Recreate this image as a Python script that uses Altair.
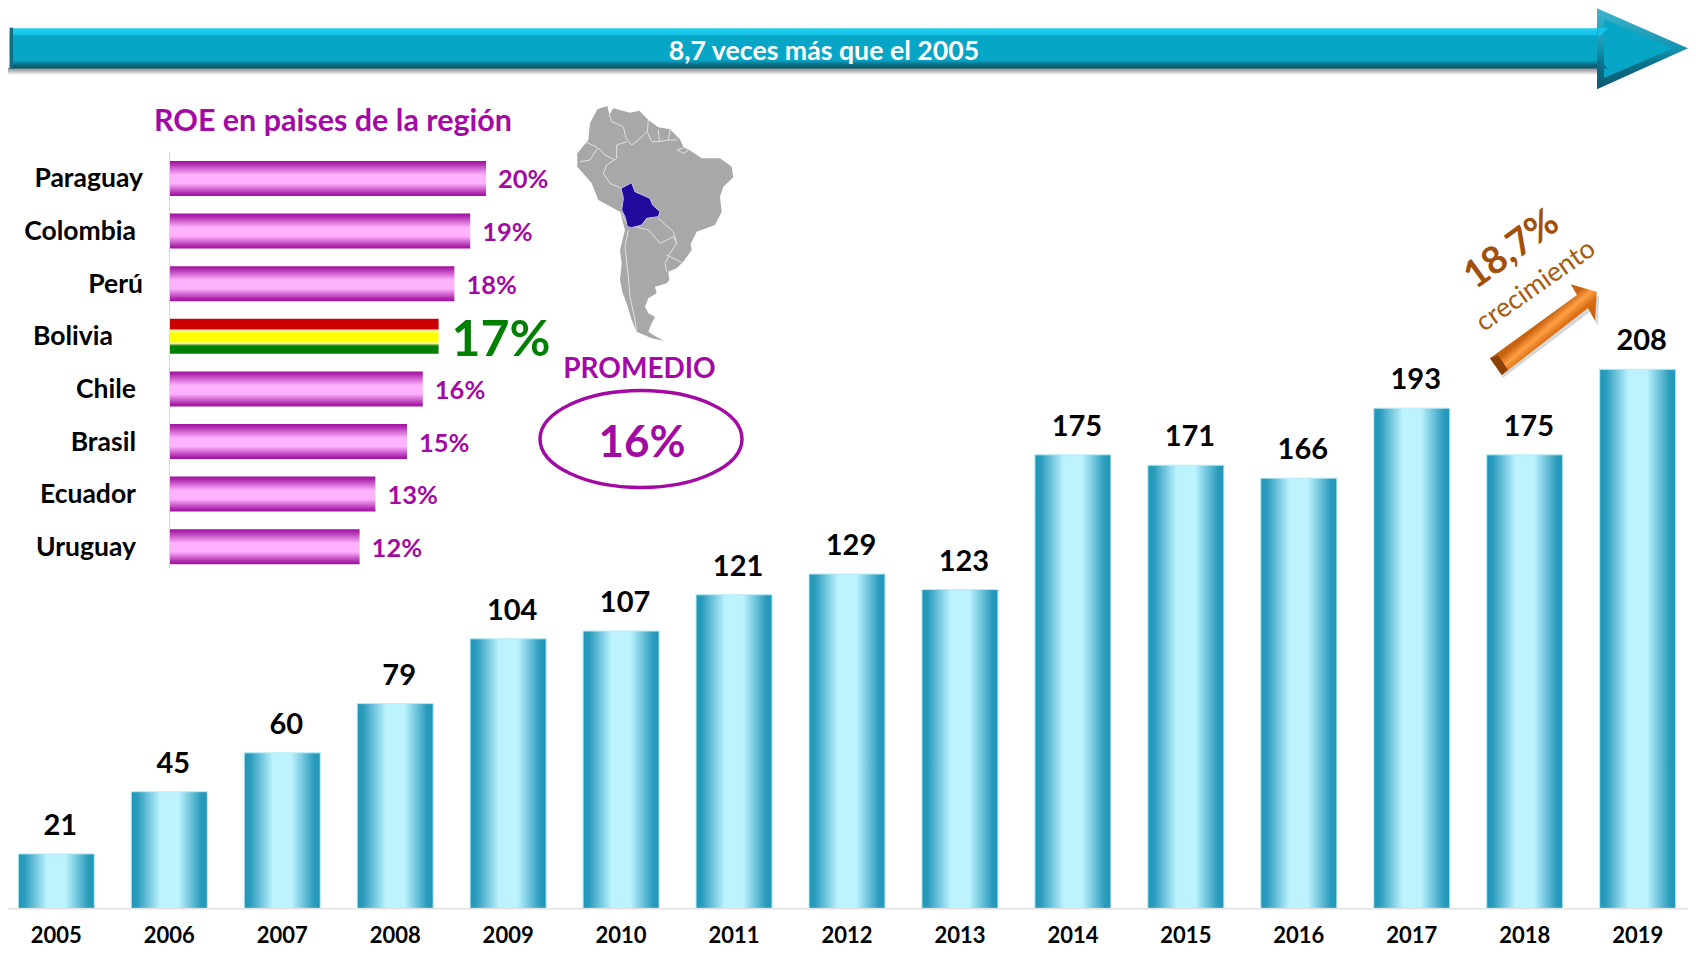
import altair as alt
import pandas as pd

years = ["2005","2006","2007","2008","2009","2010","2011","2012","2013","2014","2015","2016","2017","2018","2019"]
profits = [21,45,60,79,104,107,121,129,123,175,171,166,193,175,208]
countries = ["Paraguay","Colombia","Perú","Bolivia","Chile","Brasil","Ecuador","Uruguay"]
roe = [20,19,18,17,16,15,13,12]
roe_labels = ["20%","19%","18%","17%","16%","15%","13%","12%"]

FONT = "Lato"
PURPLE = "#a30aa3"
main_df = pd.DataFrame({"year": years, "value": profits})
roe_df = pd.DataFrame({"country": countries, "roe": roe, "label": roe_labels})
one = pd.DataFrame({"a": [0]})

X_MAIN = alt.X("year:N", axis=None, sort=years,
               scale=alt.Scale(type="band", domain=years, range=[10.3, 1667.7], paddingInner=0.327, paddingOuter=0, round=False))
Y_MAIN = alt.Y("value:Q", axis=None, scale=alt.Scale(domain=[0, 208], range=[900.3, 361.3], nice=False))
X_ROE = alt.X("roe:Q", axis=None, scale=alt.Scale(domain=[0, 20], range=[162, 478], nice=False))
Y_ROE = alt.Y("country:N", axis=None, sort=countries,
              scale=alt.Scale(type="band", domain=countries, range=[153, 556.2], paddingInner=0.335, paddingOuter=0, round=False))

def grad(stops, horizontal=False, x1=None, y1=None, x2=None, y2=None):
    return alt.LinearGradient(
        gradient="linear",
        stops=[alt.GradientStop(offset=o, color=c) for o, c in stops],
        x1=(0 if x1 is None else x1), y1=(0 if y1 is None else y1),
        x2=((1 if horizontal else 0) if x2 is None else x2),
        y2=((0 if horizontal else 1) if y2 is None else y2),
    )

def shape(path, fill=None, stroke=None, sw=0, x=0, y=0, size=4, opacity=1):
    kw = dict(shape=path, size=size, opacity=opacity, strokeWidth=sw)
    kw["filled"] = fill is not None
    if fill is not None:
        kw["fill"] = fill
    if stroke is not None:
        kw["stroke"] = stroke
    return alt.Chart(one).mark_point(**kw).encode(x=alt.value(x), y=alt.value(y))

def label(text, x, y, size, color, weight="bold", angle=0, align="center"):
    return alt.Chart(one).mark_text(text=text, font=FONT, fontSize=size, color=color, fontWeight=weight,
                                    angle=angle, align=align, baseline="middle").encode(
        x=alt.value(x), y=alt.value(y))

layers = []

# ---------- top arrow ----------
layers.append(shape("M0,60 H1590 V67 H0 Z",
                    fill=grad([(0, "#8a8a8a"), (0.55, "#c4c4c4"), (1, "#ffffff")])))
layers.append(shape("M1.7,19.7 H1592 V60.4 H1.7 Z",
                    fill=grad([(0, "#a9dfea"), (0.04, "#16cdf2"), (0.16, "#18c6e8"), (0.2, "#07a5c6"),
                               (0.8, "#07a5c6"), (0.9, "#0a6f88"), (1, "#0a5468")])))
layers.append(shape("M1.7,19.7 H5 V60.4 H1.7 Z", fill="#0d7186"))
layers.append(shape("M1589,0.3 L1680,40.3 L1589,81.3 Z",
                    fill=grad([(0, "#3fb6cf"), (0.5, "#1593af"), (0.7, "#0a6f88"), (1, "#0a5a70")])))
layers.append(shape("M1596,11 L1665,40.3 L1596,70 Z", fill="#07a5c6"))
layers.append(shape("M1590,19.7 H1600 L1592,28 H1590 Z", fill="#16c4e6"))
layers.append(shape("M1590,60.4 H1600 L1592,53 H1590 Z", fill="#0a6f88"))
layers.append(label("8,7 veces más que el 2005", 816, 44, 26.7, "#ffffff"))

# ---------- main bars ----------
teal = grad([(0, "#1f96b8"), (0.08, "#2a9bbc"), (0.38, "#bcf3ff"), (0.62, "#bcf3ff"), (0.92, "#2a9bbc"), (1, "#1f96b8")],
            horizontal=True)
layers.append(alt.Chart(main_df).mark_bar(color=teal, stroke="#b8ecf6", strokeWidth=1).encode(x=X_MAIN, y=Y_MAIN))
layers.append(alt.Chart(main_df).mark_text(font=FONT, fontSize=29, fontWeight="bold", color="#000000",
                                           dx=4, dy=-19, baseline="alphabetic").encode(
    x=X_MAIN, y=Y_MAIN, text="value:Q"))
layers.append(alt.Chart(main_df).transform_calculate(base="0").mark_text(
    font=FONT, fontSize=22, fontWeight="bold", color="#000000", dy=28, baseline="middle").encode(
    x=X_MAIN, y=alt.Y("base:Q", axis=None, scale=alt.Scale(domain=[0, 208], range=[900.3, 361.3], nice=False)),
    text="year:N"))
layers.append(alt.Chart(one).mark_rule(color="#e2e2e2", strokeWidth=1.5).encode(
    x=alt.value(0), x2=alt.value(1680), y=alt.value(900.8)))

# ---------- ROE bars ----------
pink = grad([(0, "#a30fa0"), (0.07, "#ab25aa"), (0.4, "#ffb3ff"), (0.64, "#ffb3ff"), (0.93, "#ab25aa"), (1, "#a30fa0")])
flag = grad([(0, "#cc0000"), (0.28, "#cc0000"), (0.31, "#e8a060"), (0.34, "#ffff99"), (0.42, "#ffff00"), (0.62, "#ffff00"),
             (0.7, "#ffff99"), (0.75, "#5fa050"), (0.78, "#008000"), (1, "#008000")])
is_bol = "datum.country == 'Bolivia'"
not_bol = "datum.country != 'Bolivia'"
layers.append(alt.Chart(roe_df).transform_filter(not_bol).mark_bar(color=pink).encode(x=X_ROE, y=Y_ROE))
layers.append(alt.Chart(roe_df).transform_filter(is_bol).mark_bar(color=flag).encode(x=X_ROE, y=Y_ROE))
layers.append(alt.Chart(one).mark_rule(color="#d8d8d8", strokeWidth=1).encode(
    x=alt.value(161.5), y=alt.value(144), y2=alt.value(560)))
layers.append(alt.Chart(roe_df).transform_filter(not_bol).mark_text(
    font=FONT, fontSize=25.5, fontWeight="bold", color=PURPLE, align="left", dx=12, dy=2, baseline="middle").encode(
    x=X_ROE, y=Y_ROE, text="label:N"))
layers.append(alt.Chart(roe_df).transform_filter(is_bol).mark_text(
    font=FONT, fontSize=50, fontWeight="bold", color="#008000", align="left", dx=13, dy=5, baseline="middle").encode(
    x=X_ROE, y=Y_ROE, text="label:N"))

for names, right in ((["Paraguay", "Perú"], 135), (["Colombia", "Chile", "Brasil", "Ecuador", "Uruguay"], 128), (["Bolivia"], 105)):
    layers.append(alt.Chart(roe_df).transform_filter(alt.FieldOneOfPredicate(field="country", oneOf=names)).mark_text(
        font=FONT, fontSize=26.5, fontWeight="bold", color="#000000", align="right", dy=1, baseline="middle").encode(
        x=alt.value(right), y=Y_ROE, text="country:N"))

layers.append(label("ROE en paises de la región", 325, 114, 30.5, PURPLE))

# ---------- map (outline in 3x local units) ----------
MAP = ("M232,58 L262,48 L268,75 L280,55 L330,68 L358,62 L385,90 L415,112 L450,118 L480,148 L490,170 L505,178 L545,205 "
       "L600,205 L635,230 L640,262 L610,290 L600,320 L605,365 L585,405 L530,425 L512,462 L515,480 L490,515 L470,535 "
       "L445,545 L448,570 L440,580 L405,590 L410,610 L385,625 L375,650 L385,670 L405,680 L395,700 L385,725 L400,735 "
       "L432,753 L395,745 L350,725 L335,690 L320,640 L308,610 L300,570 L305,520 L300,480 L315,420 L300,365 L235,330 "
       "L215,280 L172,230 L172,190 L205,150 L210,100 Z")
BORDERS = ("M268,75 L275,95 L310,110 L318,145 L335,165 L355,150 L380,125 M385,90 L382,125 L395,155 L418,155 L415,120 "
           "M418,155 L445,150 L450,120 M445,150 L470,150 M320,155 L290,165 L290,205 L260,225 L250,250 L270,280 L303,295 "
           "M195,155 L232,172 L255,195 L285,210 M232,175 L210,210 L180,215 M300,365 L325,410 "
           "M325,420 L315,470 L325,560 L330,620 L345,690 L350,725 M345,410 L385,420 L420,460 L460,440 L470,460 "
           "M415,385 L460,425 L470,460 L450,490 L435,520 L440,545 M440,495 L490,520 "
           "M472,180 L495,172 L505,182 L490,190 Z")
BOLIVIA = "M303,295 L335,278 L345,305 L390,325 L398,345 L420,365 L415,380 L380,385 L365,405 L335,413 L322,410 L315,380 L305,360 L310,325 Z"
S = (2 / 3) ** 2
layers.append(shape(MAP, fill="#a8a8a8", x=512, y=82, size=S))
layers.append(shape(BORDERS, stroke="#e2e2e2", sw=1, x=512, y=82, size=S))
layers.append(shape(BOLIVIA, fill="#1f0a9c", stroke="#c9c4ea", sw=1, x=512, y=82, size=S))

# ---------- promedio ----------
layers.append(label("PROMEDIO", 631.5, 361.5, 28, PURPLE))
layers.append(shape("M-1,0 A1,0.48,0,1,1,1,0 A1,0.48,0,1,1,-1,0 Z", stroke=PURPLE, sw=3.5, x=633, y=431, size=(2 * 101) ** 2))
layers.append(label("16%", 634, 436, 44, PURPLE))

# ---------- growth arrow ----------
layers.append(shape("M1484,352 L1495,370 L1582,304 L1590,318 L1591,288 L1569,290 L1573,296 Z", fill="#9a9a9a", opacity=0.4))
layers.append(shape("M1482,350.3 L1493.7,367 L1580,300 L1587,312.7 L1588.7,283.7 L1562.7,276.3 L1569,287 Z",
                    fill=grad([(0, "#b85406"), (0.42, "#c9640f"), (0.52, "#ff9f45"), (0.62, "#d96f14"), (1, "#a84c05")],
                              x1=0.2, y1=0.2, x2=0.8, y2=0.8)))
layers.append(shape("M1482,350.3 L1493.7,367 L1500,362 L1490,347 Z", fill="#8a4208"))
layers.append(label("18,7%", 1504, 242, 38, "#a0500a", angle=324))
layers.append(label("crecimiento", 1528, 278, 27, "#a85a10", weight="normal", angle=325))

chart = alt.layer(*layers).resolve_scale(x="independent", y="independent").properties(
    width=1680, height=939, padding=0, background="#ffffff",
    autosize=alt.AutoSizeParams(type="none"),
).configure_view(strokeWidth=0)

chart.save("out.html", embed_options={"renderer": "svg", "actions": False})
